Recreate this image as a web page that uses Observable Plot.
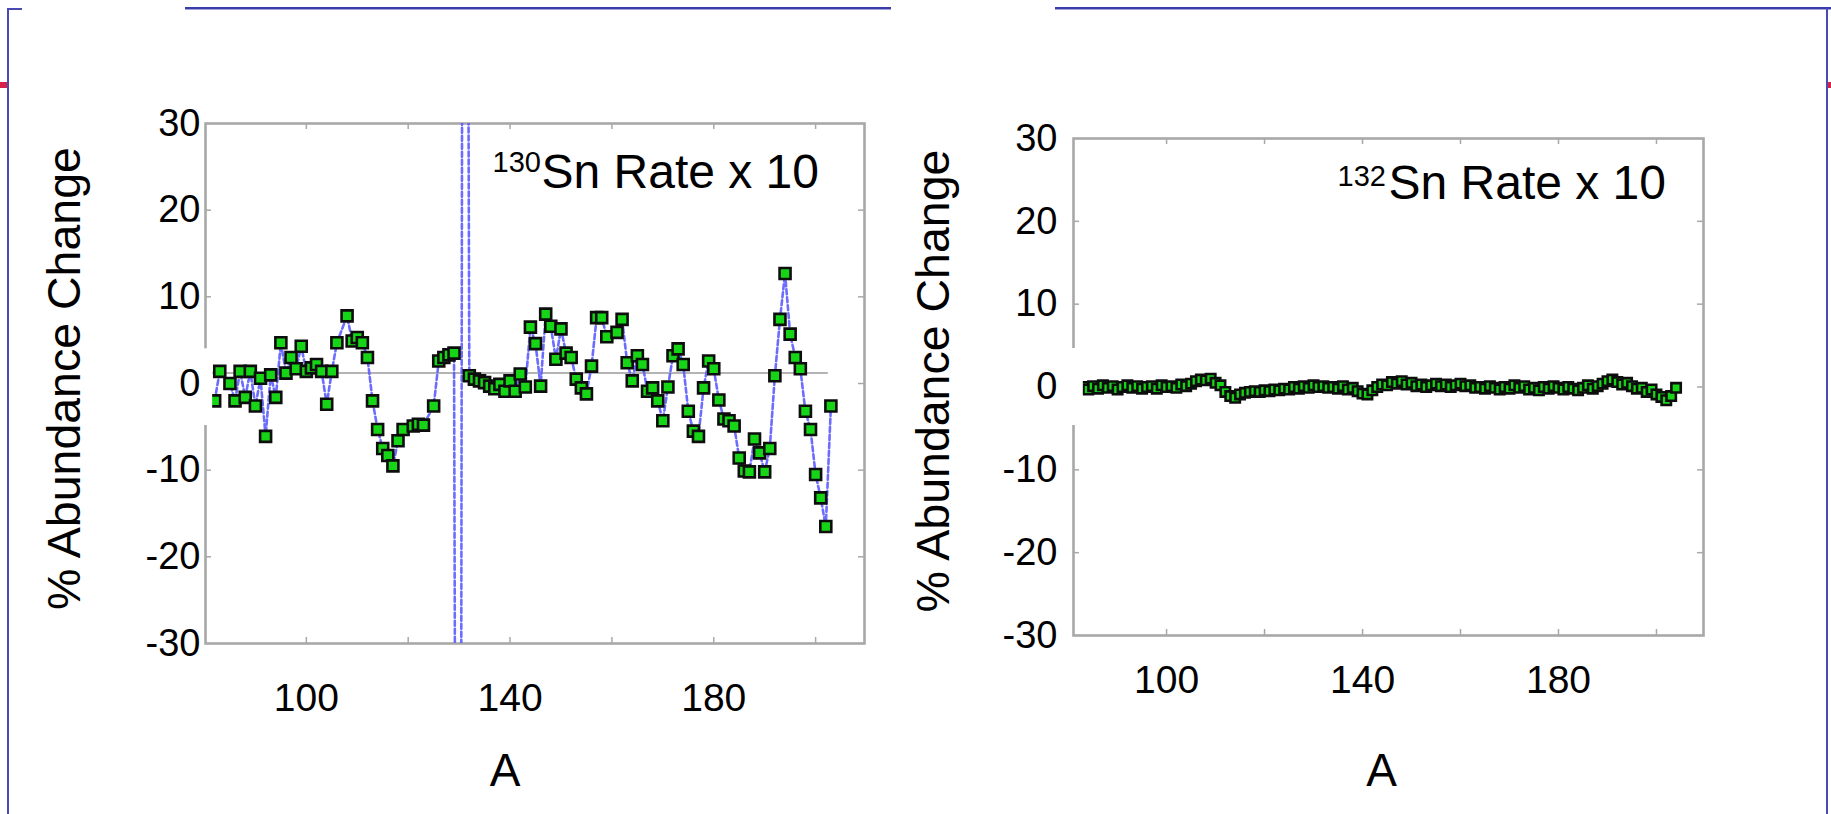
<!DOCTYPE html>
<html><head><meta charset="utf-8">
<script src="https://cdn.jsdelivr.net/npm/d3@7"></script>
<script src="https://cdn.jsdelivr.net/npm/@observablehq/plot@0.6"></script>
<style>
html,body{margin:0;padding:0;background:#fff}
body{width:1831px;height:814px;overflow:hidden;position:relative;font-family:"Liberation Sans",Arial,sans-serif}
.abs{position:absolute}
</style></head><body>
<div class="abs" style="left:185px;top:7px;width:706px;height:2px;background:#3b3ba8"></div>
<div class="abs" style="left:185px;top:9px;width:706px;height:1px;background:#a4a4dc"></div>
<div class="abs" style="left:1055px;top:7px;width:776px;height:2px;background:#3b3ba8"></div>
<div class="abs" style="left:1055px;top:9px;width:776px;height:1px;background:#a4a4dc"></div>
<div class="abs" style="left:7px;top:8px;width:15px;height:2px;background:#4a4ab5"></div>
<div class="abs" style="left:7px;top:8px;width:2px;height:806px;background:#4a4ab5"></div>
<div class="abs" style="left:1826px;top:8px;width:2px;height:806px;background:#4a4ab5"></div>
<div class="abs" style="left:0px;top:82px;width:7px;height:6px;background:#d8204a"></div>
<div class="abs" style="left:1828px;top:82px;width:3px;height:6px;background:#d8204a"></div>
<div id="left" class="abs" style="left:0;top:0"></div>
<div id="right" class="abs" style="left:915px;top:0"></div>
<script>
// ---- data ----
const leftA = [82,83,85,86,87,88,89,90,91,92,93,94,95,96,97,98,99,100,101,102,103,104,105,106,108,109,110,111,112,113,114,115,116,117,118,119,121,122,123,125,126,127,128,129,130,131,132,133,134,135,136,137,138,139,140,141,142,143,144,145,146,147,148,149,150,151,152,153,154,155,156,157,158,159,161,162,163,164,165,166,167,168,169,170,171,172,173,174,175,176,177,178,179,180,181,182,183,184,185,186,187,188,189,190,191,192,193,194,195,196,197,198,199,200,201,202,203];
const leftV = [-2.0,1.4,0.0,-2.0,1.4,-1.6,1.4,-2.6,0.6,-6.1,1.0,-1.6,4.7,1.2,3.0,1.7,4.3,1.4,1.8,2.2,1.4,-2.4,1.4,4.7,7.8,4.9,5.3,4.7,3.0,-2.0,-5.3,-7.5,-8.3,-9.5,-6.6,-5.3,-4.9,-4.7,-4.8,-2.6,2.6,3.0,3.3,3.5,-200,200,0.9,0.5,0.3,0.1,-0.3,-0.6,-0.1,-0.9,0.3,-0.9,1.1,-0.4,6.5,4.6,-0.3,8.0,6.6,2.8,6.3,3.5,3.0,0.5,-0.5,-1.2,2.0,7.6,7.6,5.4,5.9,7.4,2.4,0.3,3.2,2.2,-0.9,-0.5,-2.0,-4.3,-0.4,3.2,4.0,2.2,-3.2,-5.5,-6.1,-0.5,2.6,1.7,-1.9,-4.1,-4.3,-4.9,-8.6,-10.1,-10.2,-6.4,-8.0,-10.2,-7.5,0.9,7.4,12.7,5.7,3.0,1.7,-3.2,-5.3,-10.5,-13.2,-16.5,-2.6];
const rightA = d3.range(82, 205);
const rightV = [-0.2,0.0,-0.3,0.1,-0.2,0.2,-0.1,0.1,-0.3,0.0,0.2,-0.1,0.1,-0.2,0.0,0.1,-0.2,0.2,0.0,0.1,-0.1,0.3,0.1,0.4,0.7,0.9,0.8,1.0,0.5,0.2,-0.6,-1.1,-1.3,-0.9,-0.7,-0.6,-0.5,-0.6,-0.4,-0.5,-0.3,-0.4,-0.2,-0.3,0.0,-0.2,0.1,-0.1,0.2,0.0,0.1,-0.1,0.0,-0.2,0.1,-0.3,-0.1,-0.5,-0.8,-0.9,-0.4,0.0,0.3,0.2,0.6,0.4,0.7,0.3,0.5,0.1,0.3,0.0,0.2,0.4,0.1,0.3,0.0,0.2,0.4,0.1,0.2,-0.1,0.0,-0.2,0.1,-0.1,-0.3,0.0,-0.2,0.2,-0.1,0.1,-0.3,-0.1,-0.4,0.0,-0.2,0.1,-0.1,-0.3,0.0,-0.2,-0.4,-0.1,0.2,-0.2,0.1,0.4,0.7,0.9,0.6,0.3,0.5,0.1,-0.2,-0.1,-0.6,-0.3,-0.9,-1.2,-1.6,-1.1,-0.1];
const yTickLabels = [-30,-20,-10,0,10,20,30];
const yInnerTicks = [-20,-10,0,10,20];
const xTickLabels = [100,140,180];
const xInnerTicks = [100,120,140,160,180,200];
const leftZeroLine = [{y: 1.2, x1: 81.6, x2: 202.5}];
const yTitle = "% Abundance Change";
const xTitle = "A";
const leftNote = {sup: "130", main: "Sn Rate x 10"};
const rightNote = {sup: "132", main: "Sn Rate x 10"};

const FONT = '"Liberation Sans", Arial, sans-serif';
const GRID = "#a8a8a8";
const DASH = "#5c5cff";

function panel(o) {
  const pts = o.A.map((a, i) => ({A: a, v: o.V[i]}));
  const H = o.height - o.mt - o.mb;
  const W = o.width - o.ml - o.mr;
  return Plot.plot({
    width: o.width, height: o.height,
    marginLeft: o.ml, marginRight: o.mr, marginTop: o.mt, marginBottom: o.mb,
    style: {fontFamily: FONT, background: "transparent", color: "#000", overflow: "visible"},
    x: {domain: o.xdom},
    y: {domain: [-30, 30]},
    marks: [
      Plot.tickX(xInnerTicks, {x: d => d, insetTop: H - 6, stroke: GRID, strokeWidth: 1.5}),
      Plot.tickX(xInnerTicks, {x: d => d, insetBottom: H - 6, stroke: GRID, strokeWidth: 1.5}),
      Plot.tickY(yInnerTicks, {y: d => d, insetRight: W - 6, stroke: GRID, strokeWidth: 1.5}),
      Plot.tickY(yInnerTicks, {y: d => d, insetLeft: W - 6, stroke: GRID, strokeWidth: 1.5}),
      Plot.frame({stroke: GRID, strokeWidth: 2.6}),
      ...(o.zero ? [Plot.ruleY(o.zero, {y: "y", x1: "x1", x2: "x2", stroke: "#b4b4b4", strokeWidth: 2})] : []),
      Plot.line(pts, {x: "A", y: "v", stroke: DASH, strokeWidth: o.lw, strokeDasharray: "5,3", strokeOpacity: 0.9, clip: true}),
      Plot.dot(pts, {x: "A", y: "v", symbol: "square", r: o.r, fill: "#16d416", stroke: "#0d0d0d", strokeWidth: o.sw, clip: true}),
      Plot.rect([o.mask], {x1: "x1", x2: "x2", y1: "y1", y2: "y2", fill: "white"}),
      Plot.axisY(yTickLabels, {anchor: "left", tickSize: 0, tickPadding: o.ypad, fontSize: 38, tickFormat: d => String(d), label: null}),
      Plot.axisX(xTickLabels, {anchor: "bottom", tickSize: 0, tickPadding: o.xpad, fontSize: 39, tickFormat: d => String(d), label: null}),
      Plot.text([yTitle], {text: d => d, frameAnchor: "left", textAnchor: "middle", lineAnchor: "middle", dx: o.ytdx, dy: o.ytdy, rotate: -90, fontSize: 46.5, fill: "#000"}),
      Plot.text([xTitle], {text: d => d, frameAnchor: "bottom", textAnchor: "middle", dx: o.xtdx, dy: o.xtdy, lineAnchor: "middle", fontSize: 46, fill: "#000"}),
      Plot.text([o.note.sup], {text: d => d, frameAnchor: "top-left", textAnchor: "start", lineAnchor: "middle", dx: o.sdx, dy: o.sdy, fontSize: 29, fill: "#000"}),
      Plot.text([o.note.main], {text: d => d, frameAnchor: "top-left", textAnchor: "start", lineAnchor: "middle", dx: o.mdx, dy: o.mdy, fontSize: 48, fill: "#000"})
    ]
  });
}

document.getElementById("left").appendChild(panel({
  A: leftA, V: leftV, width: 915, height: 814, ml: 205, mr: 51, mt: 123, mb: 171,
  xdom: [80.2, 209.6], zero: leftZeroLine, lw: 2.6, r: 6.2, sw: 2.6,
  mask: {x1: 68, x2: 81.6, y1: 4.0, y2: -4.85},
  ypad: 5, xpad: 40, ytdx: -140, ytdy: -5, xtdx: -30, xtdy: 128,
  note: leftNote, sdx: 287, sdy: 39.5, mdx: 336, mdy: 49.5
}));
document.getElementById("right").appendChild(panel({
  A: rightA, V: rightV, width: 916, height: 814, ml: 158, mr: 128, mt: 138, mb: 179,
  xdom: [81.0, 209.6], zero: null, lw: 1.8, r: 5.3, sw: 2.6,
  mask: {x1: 68, x2: 83.0, y1: 4.65, y2: -4.65},
  ypad: 16, xpad: 30, ytdx: -139, ytdy: -6, xtdx: -7, xtdy: 136,
  note: rightNote, sdx: 264, sdy: 38, mdx: 315, mdy: 45
}));
</script>
</body></html>
